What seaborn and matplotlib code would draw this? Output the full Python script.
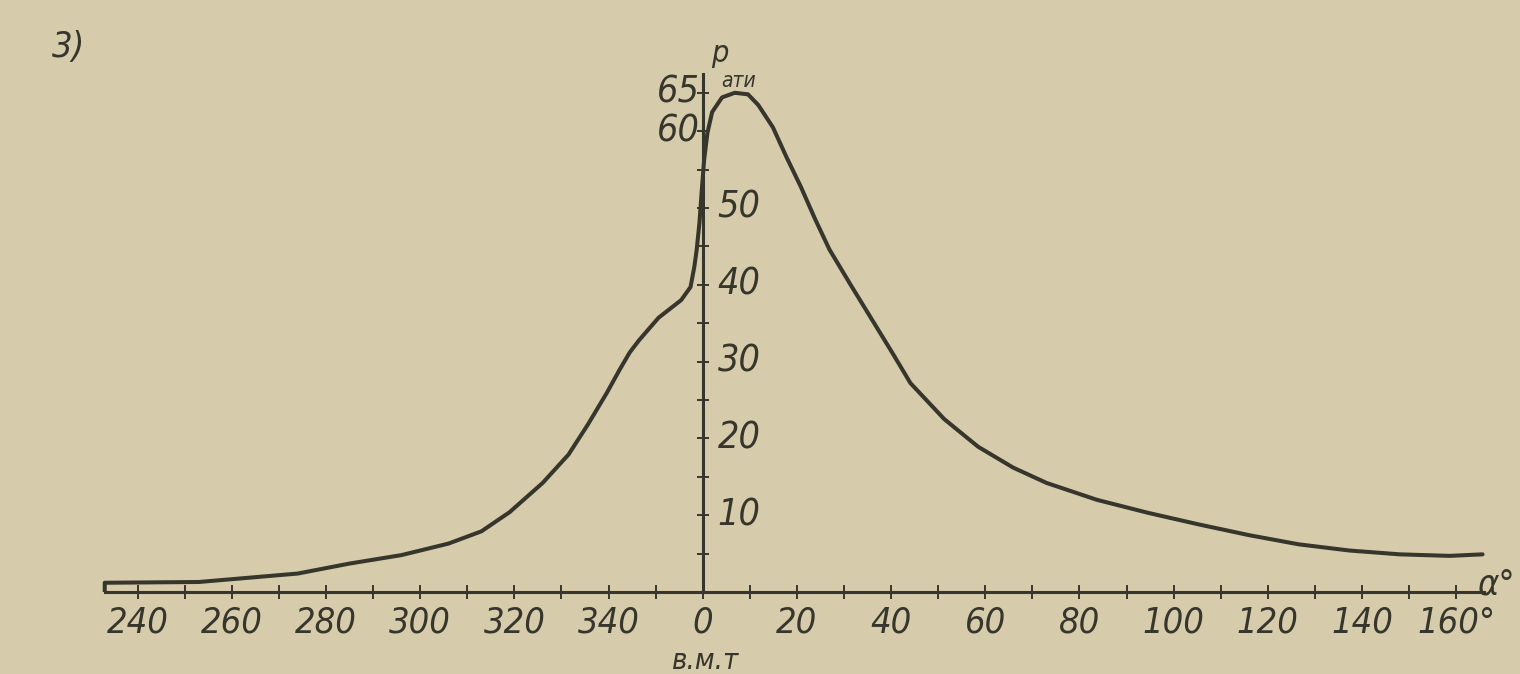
import numpy as np
import pandas as pd
import seaborn as sns
import matplotlib.pyplot as plt

# crank angle (deg, negative = before TDC) and cylinder pressure (ати)
alpha = [-127, -127, -107, -86, -75, -64, -54, -47, -41, -34, -28.5, -24.4,
         -20.4, -17.6, -15.5, -13.5, -9.4, -4.6, -2.6, -1.8, -1.3, -0.7, -0.2,
         0.3, 1.0, 2.0, 4.1, 6.8, 9.6, 11.8, 14.9, 17.8, 20.8, 23.9, 26.9,
         31.4, 35.8, 40.3, 44.1, 51.3, 58.5, 65.9, 73.0, 83.7, 94.6, 105.3,
         116, 126.6, 137.3, 148, 158.6, 165.6]
pressure = [0, 1.2, 1.3, 2.4, 3.7, 4.8, 6.3, 7.9, 10.4, 14.2, 17.9, 21.8,
            25.9, 29.0, 31.2, 32.8, 35.7, 38.0, 39.7, 42.3, 44.5, 48.1, 52.4,
            56.3, 59.8, 62.5, 64.4, 65.0, 64.8, 63.4, 60.5, 56.6, 52.8, 48.5,
            44.6, 40.0, 35.6, 31.1, 27.2, 22.5, 18.9, 16.2, 14.2, 12.0, 10.3,
            8.8, 7.4, 6.2, 5.4, 4.9, 4.7, 4.9]

x_ticks = [-120, -100, -80, -60, -40, -20, 0, 20, 40, 60, 80, 100, 120, 140, 160]
x_labels = ['240', '260', '280', '300', '320', '340', '0', '20', '40', '60',
            '80', '100', '120', '140', '160°']
y_right = [10, 20, 30, 40, 50]
y_left = [60, 65]

paper = '#d6cbab'
ink = '#37362c'
fam = ['DejaVu Sans']
lab_kw = dict(style='italic', color=ink, family=fam, stretch='condensed')

sns.set_theme(style='white')
plt.rcParams['font.family'] = fam

df = pd.DataFrame({'alpha': alpha, 'p': pressure})

fig = plt.figure(figsize=(15.2, 6.74), dpi=100, facecolor=paper)
ax = fig.add_axes([0.0658, 0.1217, 0.917, 0.7976])
ax.set_facecolor(paper)

sns.lineplot(data=df, x='alpha', y='p', ax=ax, color=ink, lw=2.9,
             sort=False, estimator=None, solid_joinstyle='round',
             solid_capstyle='round')

ax.set_xlim(-128, 168)
ax.set_ylim(0, 70)

for s in ['top', 'right']:
    ax.spines[s].set_visible(False)
ax.spines['left'].set_position(('data', 0))
ax.spines['left'].set_bounds(0, 67.5)
ax.spines['bottom'].set_bounds(-127, 166)
for s in ['left', 'bottom']:
    ax.spines[s].set_color(ink)
    ax.spines[s].set_linewidth(2.2)

ax.set_xticks(x_ticks)
ax.set_xticklabels(x_labels)
ax.set_xticks(np.arange(-120, 170, 10), minor=True)
ax.set_yticks(np.arange(5, 70, 5))
ax.set_yticklabels([])
ax.tick_params(axis='x', which='both', direction='inout', length=10,
               width=1.4, color=ink, pad=5, bottom=True)
ax.tick_params(axis='y', which='both', direction='inout', length=9,
               width=1.4, color=ink, left=True)
for lab in ax.get_xticklabels():
    lab.set_fontsize(26)
    lab.set_fontstyle('italic')
    lab.set_fontstretch('condensed')
    lab.set_color(ink)
    lab.set_family(fam)
ax.set_xlabel('')
ax.set_ylabel('')

for v in y_right:
    ax.text(3.2, v, str(v), fontsize=27, ha='left', va='center', **lab_kw)
for v in y_left:
    ax.text(-0.6, v, str(v), fontsize=27, ha='right', va='center', **lab_kw)

ax.text(1.8, 68.2, 'p', fontsize=22, ha='left', va='bottom', **lab_kw)
ax.text(4.0, 65.2, 'ати', fontsize=15, ha='left', va='bottom', **lab_kw)
ax.text(164.5, 1.0, 'α°', fontsize=26, ha='left', va='center',
        clip_on=False, **lab_kw)
ax.text(0.5, -9.0, 'в.м.т', fontsize=21, ha='center', va='center',
        clip_on=False, **lab_kw)
fig.text(0.045, 0.93, '3)', fontsize=26, ha='center', va='center', **lab_kw)

fig.savefig('out.png', dpi=100, facecolor=paper)
